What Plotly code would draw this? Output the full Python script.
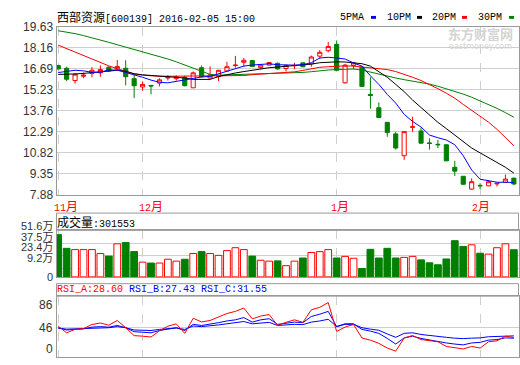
import plotly.graph_objects as go

# ---------------- data ----------------
X = list(range(55))
OPEN = [16.93, 16.73, 15.87, 16.17, 16.37, 16.41, 16.81, 16.68, 16.73, 16.00,
        15.42, 15.53, 15.69, 16.05, 16.00, 16.10, 15.36, 16.77, 16.05, 16.14,
        16.54, 16.92, 17.15, 17.27, 16.77, 16.95, 17.08, 16.71, 16.91, 17.11,
        17.04, 17.58, 17.96, 18.41, 15.71, 16.93, 16.81, 14.90, 13.96, 12.94,
        12.13, 10.60, 12.59, 12.34, 11.50, 11.40, 11.37, 9.79, 9.16, 8.26,
        8.52, 8.49, 8.62, 8.74, 9.03]
HIGH = [16.96, 16.84, 16.37, 16.44, 16.81, 16.93, 16.85, 17.31, 17.29, 16.37,
        15.80, 15.55, 16.03, 16.25, 16.23, 16.21, 16.50, 16.93, 16.86, 16.62,
        17.18, 17.60, 17.45, 17.30, 16.99, 17.18, 17.13, 16.99, 17.11, 17.15,
        17.62, 18.01, 18.57, 18.68, 17.04, 17.18, 16.84, 16.10, 14.34, 12.96,
        12.27, 12.29, 13.33, 12.56, 11.82, 11.71, 11.40, 10.24, 9.18, 9.01,
        8.67, 8.89, 8.69, 9.28, 9.05]
LOW = [16.66, 15.83, 15.65, 16.03, 16.10, 16.14, 16.50, 16.54, 15.53, 14.65,
       15.15, 14.90, 15.46, 15.87, 15.87, 15.46, 15.36, 16.10, 16.00, 15.83,
       16.50, 16.77, 16.84, 16.84, 16.66, 16.95, 16.64, 16.50, 16.66, 16.80,
       16.84, 17.40, 17.85, 16.59, 15.65, 16.66, 15.46, 13.89, 13.28, 11.93,
       11.03, 10.31, 12.27, 11.45, 11.03, 11.14, 10.22, 9.18, 8.58, 8.22,
       8.26, 8.47, 8.44, 8.72, 8.53]
CLOSE = [16.68, 15.96, 16.32, 16.25, 16.59, 16.64, 16.54, 16.86, 16.14, 15.51,
         15.60, 15.49, 15.92, 16.10, 16.14, 15.51, 16.41, 16.14, 16.27, 16.59,
         16.84, 16.95, 17.29, 16.86, 16.95, 17.13, 16.68, 16.93, 16.93, 16.84,
         17.52, 17.85, 18.26, 16.59, 16.95, 17.11, 15.46, 14.82, 13.28, 12.22,
         11.14, 12.29, 12.63, 11.48, 11.46, 11.37, 10.24, 9.52, 8.60, 8.78,
         8.49, 8.78, 8.67, 8.96, 8.62]
MA5 = [16.43, 16.50, 16.59, 16.55, 16.45, 16.45, 16.62, 16.60, 16.45, 16.25,
       16.10, 15.90, 15.75, 15.71, 15.82, 15.95, 16.06, 16.12, 16.16, 16.35,
       16.50, 16.72, 16.88, 16.96, 17.02, 17.04, 16.98, 16.95, 16.95, 16.98,
       17.12, 17.45, 17.50, 17.45, 17.38, 17.10, 16.88, 16.20, 15.60, 14.90,
       14.29, 13.50, 13.00, 12.61, 12.05, 11.86, 11.70, 11.37, 10.60, 9.60,
       8.95, 8.85, 8.74, 8.74, 8.72]
MA10 = [16.30, 16.30, 16.33, 16.37, 16.42, 16.48, 16.57, 16.59, 16.52, 16.35,
        16.27, 16.23, 16.20, 16.17, 16.12, 16.05, 15.95, 15.93, 15.95, 16.15,
        16.30, 16.40, 16.50, 16.60, 16.70, 16.77, 16.82, 16.86, 16.90, 16.95,
        17.02, 17.12, 17.17, 17.18, 17.17, 17.13, 17.05, 16.88, 16.50, 16.10,
        15.60, 15.09, 14.50, 13.96, 13.45, 12.94, 12.50, 12.05, 11.60, 11.14,
        10.80, 10.47, 10.12, 9.79, 9.38]
MA20 = [18.35, 18.10, 17.88, 17.62, 17.38, 17.12, 16.90, 16.70, 16.50, 16.33,
        16.25, 16.20, 16.17, 16.17, 16.17, 16.17, 16.17, 16.17, 16.17, 16.17,
        16.17, 16.18, 16.22, 16.28, 16.32, 16.35, 16.38, 16.42, 16.48, 16.58,
        16.68, 16.80, 16.84, 16.88, 16.90, 16.88, 16.82, 16.77, 16.72, 16.64,
        16.50, 16.32, 16.10, 15.87, 15.60, 15.30, 14.98, 14.63, 14.20, 13.80,
        13.40, 12.95, 12.45, 11.90, 11.30]
MA30 = [19.36, 19.28, 19.16, 19.02, 18.88, 18.72, 18.55, 18.38, 18.22, 18.02,
        17.85, 17.70, 17.55, 17.38, 17.18, 16.95, 16.72, 16.50, 16.30, 16.25,
        16.27, 16.30, 16.31, 16.32, 16.33, 16.34, 16.35, 16.37, 16.40, 16.44,
        16.49, 16.56, 16.61, 16.64, 16.66, 16.68, 16.60, 16.45, 16.33, 16.18,
        16.05, 15.93, 15.83, 15.74, 15.62, 15.47, 15.30, 15.12, 14.92, 14.70,
        14.45, 14.18, 13.92, 13.62, 13.30]
VOL = [46.9, 31.7, 30.3, 30.3, 30.3, 26.0, 23.1, 36.7, 38.1, 28.1,
       16.4, 15.4, 15.4, 19.6, 17.5, 19.6, 26.0, 28.1, 26.0, 23.9,
       29.2, 32.4, 30.3, 23.1, 18.5, 17.5, 17.8, 12.5, 17.5, 21.0,
       27.1, 28.1, 30.3, 21.0, 22.8, 20.7, 9.3, 30.6, 21.0, 31.7,
       21.0, 21.7, 22.8, 18.9, 15.7, 13.5, 19.9, 40.2, 33.8, 35.6,
       26.3, 25.3, 32.4, 36.7, 30.2]
RSI_A = [48.8, 37.0, 43.0, 44.5, 51.7, 54.4, 50.5, 58.9, 46.0, 32.0,
         31.0, 29.5, 40.5, 48.8, 52.8, 36.0, 62.8, 56.2, 58.9, 64.4,
         71.2, 75.0, 81.0, 61.7, 66.7, 69.4, 50.0, 55.6, 60.0, 55.6,
         77.8, 82.2, 90.6, 39.4, 47.2, 51.7, 27.8, 23.9, 18.3, 10.0,
         4.4, 27.8, 32.2, 25.0, 22.8, 21.1, 12.8, 10.0, 8.3, 12.8,
         10.0, 21.1, 22.8, 31.0, 28.6]
RSI_B = [46, 42, 43, 44, 47, 48, 47, 50, 46, 39,
         38, 37, 41, 44, 46, 41, 52, 50, 52, 55,
         58, 60, 64, 56, 60, 62, 52, 54, 56, 55,
         66, 70, 75, 48, 53, 53, 43, 40, 36, 27,
         17, 28, 31, 27, 24, 22, 19, 17, 15.6, 19,
         20, 24, 25, 28, 27.43]
RSI_C = [45, 43.5, 44, 44.5, 46, 46.5, 46, 48, 46, 42,
         41.5, 41, 43, 44.5, 45.5, 43, 49, 48, 49, 51,
         53, 54.5, 57, 53, 54.5, 55.5, 50, 51, 52, 51.5,
         56, 58, 61, 48, 52, 52, 46, 43.5, 41.5, 35,
         29, 36, 37, 34, 32, 30.5, 29, 27.5, 26.7, 27.5,
         28, 30, 30.5, 31.5, 31.55]
PRICE_TICKS = [7.88, 9.35, 10.82, 12.29, 13.76, 15.23, 16.69, 18.16, 19.63]
MONTH_IDX = [0, 10, 33, 50]
MONTH_LABELS = ["11", "12", "1", "2"]
VOL_TICKS = [9.2, 23.4, 37.5, 51.6]
VOL_LABELS = ["51.6万", "37.5万", "23.4万", "9.2万", "0"]
RSI_LABELS = ["86", "46", "0"]

# ---------------- styling ----------------
W, H = 520, 365
def px(x):
    return x / W
def py(y):
    return 1 - y / H

RED, GREEN, BLUE, BLACK = "#ff0000", "#008000", "#0000ff", "#000000"
BORDER, GRID = "#9a9a9a", "#cfcfcf"
MONO = "Liberation Mono"
SANS = "Liberation Sans, Noto Sans CJK SC"
CJK = "font-family:'Noto Sans CJK SC';font-size:12px"

fig = go.Figure()

fig.add_trace(go.Candlestick(
    x=X, open=OPEN, high=HIGH, low=LOW, close=CLOSE,
    increasing=dict(line=dict(color=RED, width=1), fillcolor="white"),
    decreasing=dict(line=dict(color=GREEN, width=1), fillcolor=GREEN),
    whiskerwidth=0, xaxis="x", yaxis="y", hoverinfo="skip"))
for vals, col in [(MA30, GREEN), (MA20, RED), (MA10, BLACK), (MA5, BLUE)]:
    fig.add_trace(go.Scatter(x=X, y=vals, mode="lines", line=dict(color=col, width=1),
                             xaxis="x", yaxis="y", hoverinfo="skip"))

up = [c >= o for o, c in zip(OPEN, CLOSE)]
fig.add_trace(go.Bar(
    x=X, y=VOL, xaxis="x2", yaxis="y2", hoverinfo="skip",
    marker=dict(color=["white" if u else GREEN for u in up],
                line=dict(color=[RED if u else GREEN for u in up], width=1))))

for vals, col in [(RSI_C, BLUE), (RSI_B, BLUE), (RSI_A, RED)]:
    fig.add_trace(go.Scatter(x=X, y=vals, mode="lines", line=dict(color=col, width=1),
                             xaxis="x3", yaxis="y3", hoverinfo="skip"))

XDOM = [px(56.5), px(518.5)]
xbase = dict(range=[-0.2, 54.55], domain=XDOM, tickvals=MONTH_IDX, showticklabels=False,
             ticks="", showgrid=True, gridcolor=GRID, griddash="dash", gridwidth=1,
             showline=True, mirror=True, linecolor=BORDER, linewidth=1, zeroline=False,
             fixedrange=True)
ybase = dict(showline=True, mirror=True, linecolor=BORDER, linewidth=1, zeroline=False,
             ticks="", fixedrange=True, gridcolor=GRID, gridwidth=1)

fig.update_layout(
    width=W, height=H, margin=dict(l=0, r=0, t=0, b=0),
    paper_bgcolor="white", plot_bgcolor="white", showlegend=False,
    bargap=0.2,
    xaxis=dict(**xbase, anchor="y", rangeslider=dict(visible=False)),
    yaxis=dict(**ybase, anchor="x", domain=[py(195), py(20.7)], range=[7.88, 19.63],
               tickvals=PRICE_TICKS, ticktext=[f"{v:.2f}" for v in PRICE_TICKS],
               tickfont=dict(family=SANS, size=12, color="#333333")),
    xaxis2=dict(**xbase, anchor="y2"),
    yaxis2=dict(**ybase, anchor="x2", domain=[py(280.7), py(232.3)], range=[0, 51.6],
                tickvals=VOL_TICKS, showticklabels=False),
    xaxis3=dict(**xbase, anchor="y3"),
    yaxis3=dict(**ybase, anchor="x3", domain=[py(364), py(300.7)], range=[-6, 102],
                tickvals=[46], showticklabels=False),
)

shapes = [
    dict(type="rect", xref="paper", yref="paper", x0=XDOM[0], x1=XDOM[1],
         y0=py(232.3), y1=py(214.3), line=dict(color=BORDER, width=1)),
    dict(type="rect", xref="paper", yref="paper", x0=XDOM[0], x1=XDOM[1],
         y0=py(300.7), y1=py(287.7), line=dict(color=BORDER, width=1)),
]
for x0, col in [(371, BLUE), (417, BLACK), (462, RED), (509, GREEN)]:
    shapes.append(dict(type="rect", xref="paper", yref="paper", x0=px(x0), x1=px(x0 + 5),
                       y0=py(12.3), y1=py(9.3), line=dict(width=0), fillcolor=col))
fig.update_layout(shapes=shapes)

ann = []
def text(x, y, t, size=10, family=MONO, color=BLACK, anchor="left"):
    ann.append(dict(xref="paper", yref="paper", x=px(x), y=py(y), text=t, showarrow=False,
                    xanchor=anchor, yanchor="middle", borderpad=0,
                    font=dict(family=family, size=size, color=color)))

text(56, 9.5, f"<span style=\"{CJK}\">西部资源</span>[600139] 2016-02-05 15:00")
for x0, lab in [(339, "5PMA"), (386, "10PM"), (431, "20PM"), (477, "30PM")]:
    text(x0, 10.5, lab)
for (xp, lab) in zip([52.5, 137.5, 329.5, 471], MONTH_LABELS):
    text(xp, 206.5, f"{lab}<span style=\"{CJK}\">月</span>", color=RED)
text(56, 223, f"<span style=\"{CJK}\">成交量</span>:301553")
for yv, lab in zip([227.5, 239, 249.5, 260.5, 280.5], VOL_LABELS):
    text(53.5, yv, lab, size=11, family=SANS, color="#333333", anchor="right")
for yv, lab in zip([310, 334.3, 355.7], RSI_LABELS):
    text(53.5, yv, lab, size=12, family=SANS, color="#333333", anchor="right")
text(56, 294, f"<span style=\"color:{RED}\">RSI_A:28.60</span> "
              f"<span style=\"color:{BLUE}\">RSI_B:27.43</span> "
              f"<span style=\"color:{BLUE}\">RSI_C:31.55</span>")
text(480, 28, "<b>东方财富网</b>", size=13, family="Noto Sans CJK SC", color="#d4d4d4", anchor="center")
text(480, 41, "eastmoney.com", size=8, family="DejaVu Sans", color="#d4d4d4", anchor="center")
fig.update_layout(annotations=ann)

fig.write_html("out.html", config={"displayModeBar": False},
               post_script="document.body.style.margin='0';document.body.style.overflow='hidden';")
